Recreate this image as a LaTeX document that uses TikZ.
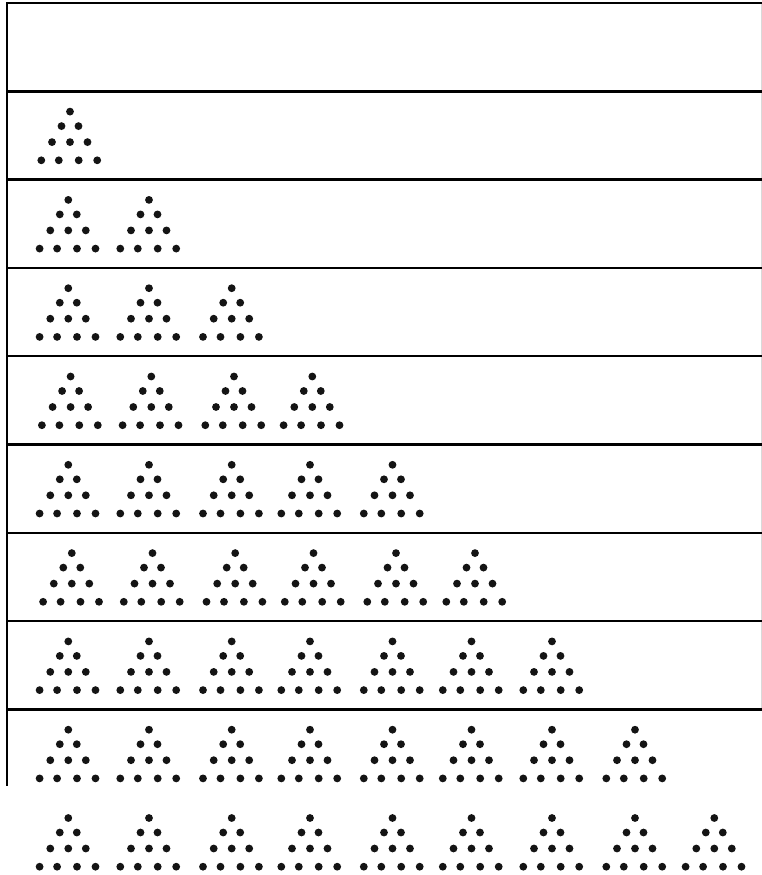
\documentclass[tikz,border=0pt]{standalone}
\usepackage{tikz}
\usetikzlibrary{positioning}

% one triangle of ten dots, apex at (#1,#2)
\newcommand{\tendots}[2]{%
  \begin{scope}[shift={(#1,#2)}]
    \foreach \dx/\dy in {0/0, -8.5/14.5, 8.5/14.5,
                         -18/30.5, 0/30.5, 17.5/30.5,
                         -28.7/48.7, -11.2/48.7, 8.7/48.7, 27.2/48.7}
      \fill[dot] (\dx,\dy) circle[radius=3.9pt];
  \end{scope}}

\begin{document}
\begin{tikzpicture}[x=1pt,y=-1pt,
    rule/.style={line width=2.4pt,line cap=rect},
    edge/.style={line width=0.6pt,black!15},
    dot/.style={black!92}]
  \useasboundingbox (0,0) rectangle (762,875);

  % table
  \draw[edge] (761.4,3) -- (761.4,709.4);
  \draw[rule] (7,3) -- (762,3);
  \foreach \k in {1,...,8}
    \draw[rule] (7,3+88.3*\k) -- (762,3+88.3*\k);
  \draw[rule] (7,3) -- (7,785);

  % rows of triangles
  \foreach \row/\off in {1/1.7, 2/0, 3/0, 4/2.3, 5/0, 6/3.5, 7/0, 8/0, 9/0}{
    \pgfmathsetmacro{\ay}{23.3+88.3*\row}
    \foreach \cx [count=\c] in {68.3,149,231.7,310,392.5,471.5,552,635,714.3}{
      \ifnum\c>\row\else
        \tendots{\cx+\off}{\ay}
      \fi
    }
  }
\end{tikzpicture}
\end{document}
